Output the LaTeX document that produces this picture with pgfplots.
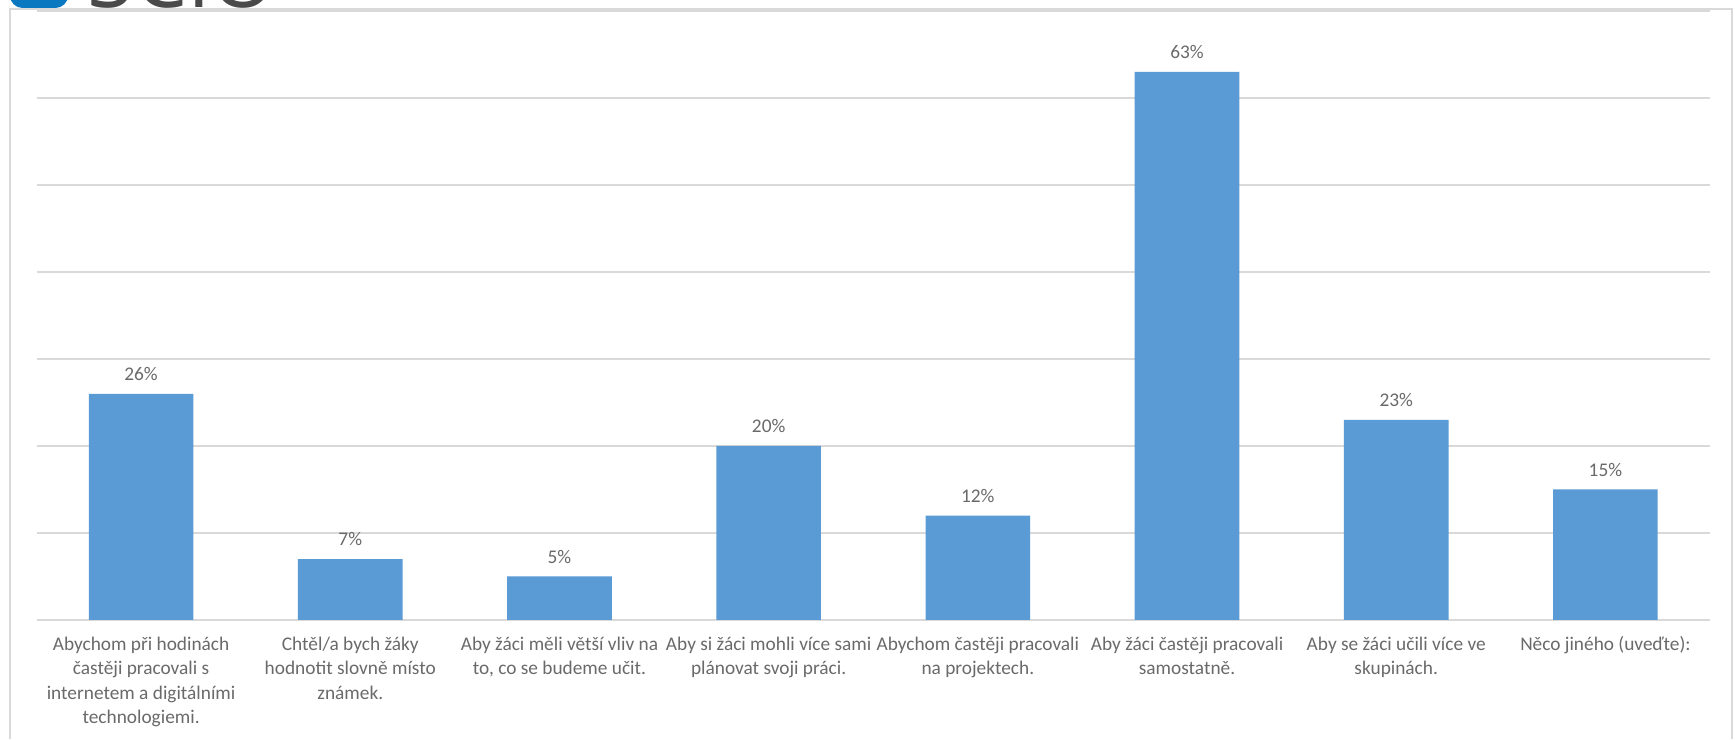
\documentclass[border=0pt]{standalone}
\usepackage{pgfplots}
\pgfplotsset{compat=1.18}
\usepackage{fontspec}
\setmainfont{Carlito}
\newfontfamily\logofont{Open Sans}
\definecolor{barblue}{HTML}{5B9BD5}
\definecolor{gridgray}{HTML}{D9D9D9}
\definecolor{txtgray}{HTML}{6A6A6A}
\definecolor{logoblue}{HTML}{0A78C0}
\definecolor{logogray}{HTML}{4A4A4A}
\begin{document}
\begin{tikzpicture}
\clip (0,0) rectangle (34.7cm,14.78cm);
\fill[white] (0,0) rectangle (34.7cm,14.78cm);
% logo (cut off at top)
\fill[logoblue, rounded corners=0.25cm] (0.2cm,14.62cm) rectangle (1.36cm,15.6cm);
\node[anchor=base west, inner sep=0pt, text=logogray, font=\logofont\fontsize{48}{48}\selectfont] at (1.75cm,14.62cm) {SCIO};
% frame
\draw[gridgray, line width=0.6pt] (0.2cm,0) -- (0.2cm,14.6cm) -- (34.64cm,14.6cm) -- (34.64cm,0);
\begin{axis}[
  at={(0.73cm,2.38cm)}, anchor=south west,
  scale only axis,
  width=33.47cm, height=12.18cm,
  xmin=-0.5, xmax=7.5,
  ymin=0, ymax=70,
  ytick={0,10,...,70},
  yticklabels={},
  major tick length=0pt,
  ymajorgrids,
  grid style={gridgray, line width=0.8pt},
  axis line style={draw=none},
  /pgf/number format/assume math mode=true,
  xtick=data,
  xticklabels={
    {Abychom při hodinách\\častěji pracovali s\\internetem a digitálními\\technologiemi.},
    {Chtěl/a bych žáky\\hodnotit slovně místo\\známek.},
    {Aby žáci měli větší vliv na\\to, co se budeme učit.},
    {Aby si žáci mohli více sami\\plánovat svoji práci.},
    {Abychom častěji pracovali\\na projektech.},
    {Aby žáci častěji pracovali\\samostatně.},
    {Aby se žáci učili více ve\\skupinách.},
    {Něco jiného (uveďte):}},
  xticklabel style={align=center, text=txtgray, font=\fontsize{11}{14}\selectfont, yshift=-6pt},
  ybar, bar width=0.5,
  nodes near coords={\pgfmathprintnumber{\pgfplotspointmeta}\%},
  every node near coord/.append style={text=txtgray, font=\fontsize{11}{13}\selectfont, yshift=4pt},
]
\addplot[fill=barblue, draw=none] coordinates {
  (0,26) (1,7) (2,5) (3,20) (4,12) (5,63) (6,23) (7,15)
};
\end{axis}
\end{tikzpicture}
\end{document}
